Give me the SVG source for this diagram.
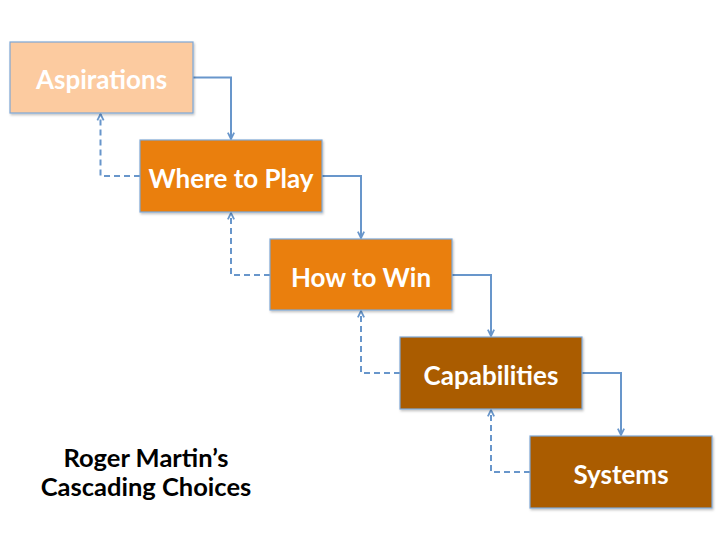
<svg xmlns="http://www.w3.org/2000/svg" width="720" height="540" viewBox="0 0 720 540">
<style>
.box{stroke:#7ea7d6;stroke-width:1.2}
.lbl{font-family:Lato,"Open Sans","Liberation Sans",sans-serif;font-weight:bold;font-size:26px;fill:#fff;text-anchor:middle}
.cap{font-family:Lato,"Open Sans","Liberation Sans",sans-serif;font-weight:bold;font-size:25.5px;fill:#000;text-anchor:middle}
.solid{fill:none;stroke:#6896cb;stroke-width:2;marker-end:url(#ah)}
.dash{fill:none;stroke:#6896cb;stroke-width:2;stroke-dasharray:6 4;marker-end:url(#ah)}
</style>
<defs>
<marker id="ah" viewBox="0 0 10 10" refX="9" refY="5" markerWidth="9" markerHeight="9" orient="auto" markerUnits="userSpaceOnUse">
<path d="M2,1.5 L9,5 L2,8.5" fill="none" stroke="#6896cb" stroke-width="2"/>
</marker>
<filter id="sh" x="-5%" y="-5%" width="115%" height="120%">
<feDropShadow dx="1" dy="1.5" stdDeviation="1.2" flood-color="#000" flood-opacity="0.25"/>
</filter>
</defs>
<g id="connectors">
<path class="solid" d="M193,77.5 H231 V139"/>
<path class="solid" d="M322,176 H361 V238"/>
<path class="solid" d="M452,275 H491 V336"/>
<path class="solid" d="M582,373 H621 V435"/>
<path class="dash" d="M140,176 H100.5 V114"/>
<path class="dash" d="M270,275 H231 V213"/>
<path class="dash" d="M400,373 H361 V311"/>
<path class="dash" d="M530,472 H491 V410"/>
</g>
<g id="aspirations">
<rect class="box" x="10" y="42" width="183" height="71" fill="#fccba0" filter="url(#sh)"/>
<text class="lbl" x="101.5" y="89">Aspirations</text>
</g>
<g id="where">
<rect class="box" x="140" y="140" width="182" height="72" fill="#ea7f0a" filter="url(#sh)"/>
<text class="lbl" x="231" y="188">Where to Play</text>
</g>
<g id="how">
<rect class="box" x="270" y="239" width="182" height="71" fill="#ea7f0a" filter="url(#sh)"/>
<text class="lbl" x="361" y="287">How to Win</text>
</g>
<g id="capabilities">
<rect class="box" x="400" y="337" width="182" height="72" fill="#aa5c04" filter="url(#sh)"/>
<text class="lbl" x="491" y="385">Capabilities</text>
</g>
<g id="systems">
<rect class="box" x="530" y="436" width="182" height="72" fill="#aa5c04" filter="url(#sh)"/>
<text class="lbl" x="621" y="484">Systems</text>
</g>
<g id="caption">
<text class="cap" x="146" y="467">Roger Martin’s</text>
<text class="cap" x="146" y="496">Cascading Choices</text>
</g>
</svg>
